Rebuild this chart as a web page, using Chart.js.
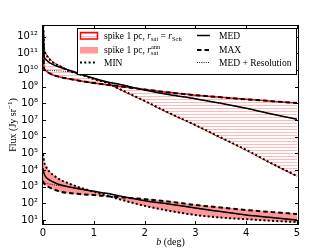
<!DOCTYPE html>
<html><head><meta charset="utf-8">
<script src="https://cdn.jsdelivr.net/npm/chart.js@4/dist/chart.umd.min.js"></script>
<style>html,body{margin:0;padding:0;background:#fff;}canvas{display:block;}</style>
</head><body>
<canvas id="c" width="333" height="251"></canvas>
<script>
// galactic latitude b (deg)
const b = [0, 0.02, 0.05, 0.1, 0.2, 0.35, 0.5, 0.75, 1.0, 1.25, 1.5, 2, 2.5, 3, 3.5, 4, 4.5, 5];
// spike 1 pc, r_sat = r_Sch
const schMIN = [7.9e12, 2.0e11, 1.0e11, 5.6e10, 2.8e10, 1.6e10, 9.1e9, 5.2e9, 2.8e9, 1.7e9, 7.4e8, 1.4e8, 2.5e7, 5.0e6, 8.9e5, 1.6e5, 2.5e4, 4.4e3];
const schMED = [7.9e12, 7.1e10, 4.5e10, 3.2e10, 2.1e10, 1.4e10, 1.0e10, 5.6e9, 3.2e9, 2.0e9, 1.4e9, 6.3e8, 3.3e8, 1.9e8, 1.0e8, 5.0e7, 2.3e7, 1.1e7];
const schMAX = [7.9e12, 1.26e10, 9.3e9, 7.1e9, 5.0e9, 3.7e9, 3.0e9, 2.2e9, 1.66e9, 1.32e9, 1.07e9, 6.8e8, 4.4e8, 3.1e8, 2.3e8, 1.74e8, 1.35e8, 1.05e8];
const schRES = [9.3e9, 9.3e9, 9.3e9, 9.3e9, 9.1e9, 8.7e9, 7.9e9, 5.4e9, 3.2e9, 2.0e9, 1.4e9, 6.3e8, 3.3e8, 1.9e8, 1.0e8, 5.0e7, 2.3e7, 1.1e7];
// spike 1 pc, r_sat^ann
const annMIN = [8.9e4, 3.2e4, 1.8e4, 1.0e4, 5.0e3, 2.5e3, 1.6e3, 830, 500, 300, 178, 71, 35, 20, 14, 11.2, 8.9, 7.6];
const annMED = [1.26e4, 6.3e3, 4.0e3, 2.8e3, 1.9e3, 1.26e3, 1.0e3, 710, 525, 400, 280, 145, 89, 52, 32, 20, 14, 10];
const annMAX = [2.2e3, 1.6e3, 1.26e3, 1.0e3, 710, 500, 420, 355, 316, 270, 235, 178, 126, 79, 56, 40, 30, 23];
const annRES = [1.6e3, 1.6e3, 1.55e3, 1.5e3, 1.3e3, 1.12e3, 930, 710, 525, 400, 280, 145, 89, 52, 32, 20, 14, 10];
// tick labels
const xTicks = [0, 1, 2, 3, 4, 5];
const yExps = [1, 2, 3, 4, 5, 6, 7, 8, 9, 10, 11, 12];

const SUP = {'0':'⁰','1':'¹','2':'²','3':'³','4':'⁴','5':'⁵','6':'⁶','7':'⁷','8':'⁸','9':'⁹','-':'⁻'};
const sup = s => String(s).split('').map(c => SUP[c] || c).join('');

// hatch pattern
const pc = document.createElement('canvas'); pc.width = 4; pc.height = 3;
const pctx = pc.getContext('2d');
pctx.fillStyle = '#fff'; pctx.fillRect(0,0,4,3);
pctx.fillStyle = 'rgb(255,185,185)'; pctx.fillRect(0,0,4,1);
const ctx = document.getElementById('c').getContext('2d');
const hatch = ctx.createPattern(pc, 'repeat');

const pts = arr => b.map((x,i) => ({x, y: arr[i]}));
const base = {pointRadius: 0, borderCapStyle: 'butt', cubicInterpolationMode: 'monotone', fill: false};
const DASH = [4.5, 3], DOTS = [2, 2.3], FINE = [1, 1.2];

const datasets = [
  {...base, data: pts(schMAX), borderColor: 'red', borderWidth: 1.5, backgroundColor: hatch, fill: {target: 1}, order: 10},
  {...base, data: pts(schMIN), borderColor: 'red', borderWidth: 1.5, order: 10},
  {...base, data: pts(annMAX), borderColor: '#ff9999', borderWidth: 1, backgroundColor: '#ff9999', fill: {target: 3}, order: 10},
  {...base, data: pts(annMIN), borderColor: '#ff9999', borderWidth: 1, order: 10},
  {...base, data: pts(schRES), borderColor: '#000', borderWidth: 0.9, borderDash: FINE, order: 2},
  {...base, data: pts(annRES), borderColor: '#000', borderWidth: 0.9, borderDash: FINE, order: 2},
  {...base, data: pts(schMED), borderColor: '#000', borderWidth: 1.5, order: 1},
  {...base, data: pts(annMED), borderColor: '#000', borderWidth: 1.5, order: 1},
  {...base, data: pts(schMAX), borderColor: '#000', borderWidth: 2, borderDash: DASH, order: 1},
  {...base, data: pts(annMAX), borderColor: '#000', borderWidth: 2, borderDash: DASH, order: 1},
  {...base, data: pts(schMIN), borderColor: '#000', borderWidth: 2, borderDash: DOTS, order: 1},
  {...base, data: pts(annMIN), borderColor: '#000', borderWidth: 2, borderDash: DOTS, order: 1},
];

function rich(c, x, y, parts) {
  for (const p of parts) {
    c.font = p.f;
    c.fillText(p.t, x, y + (p.dy || 0));
    x += c.measureText(p.t).width;
  }
  return x;
}
const SER = '"Liberation Serif", "DejaVu Serif", serif';
const F = '9.5px ' + SER, FI = 'italic 9.5px ' + SER, FS = '6.5px ' + SER;

const deco = {
  id: 'deco',
  afterDraw(chart) {
    const c = chart.ctx, a = chart.chartArea;
    const xs = chart.scales.x, ys = chart.scales.y;
    c.save();
    // frame
    c.strokeStyle = '#000'; c.lineWidth = 1;
    c.strokeRect(a.left + 0.5, a.top + 0.5, a.right - a.left - 1, a.bottom - a.top - 1);
    // inward ticks
    c.beginPath();
    for (const v of xTicks) {
      const px = Math.round(xs.getPixelForValue(v)) + 0.5;
      c.moveTo(px, a.bottom); c.lineTo(px, a.bottom - 4);
      c.moveTo(px, a.top); c.lineTo(px, a.top + 4);
    }
    for (const e of yExps) {
      const py = Math.round(ys.getPixelForValue(Math.pow(10, e))) + 0.5;
      c.moveTo(a.left, py); c.lineTo(a.left + 4, py);
      c.moveTo(a.right, py); c.lineTo(a.right - 4, py);
    }
    c.stroke();

    // legend
    const L = 77.5, T = 28.5, W = 219, H = 46;
    c.fillStyle = '#fff'; c.fillRect(L, T, W, H);
    c.strokeStyle = '#000'; c.lineWidth = 1; c.strokeRect(L, T, W, H);
    const rows = [35.5, 50, 62.5];
    // row 1 symbol: hatched with red border
    c.fillStyle = hatch; c.fillRect(80.5, rows[0] - 3, 17, 6.5);
    c.strokeStyle = 'red'; c.lineWidth = 1.5; c.strokeRect(80.5, rows[0] - 3, 17, 6.5);
    // row 2 symbol: pink fill
    c.fillStyle = '#ff9999'; c.fillRect(80, rows[1] - 3, 18, 6.5);
    // row 3 MIN line
    const seg = (x0, x1, y, w, dash) => {
      c.beginPath(); c.setLineDash(dash); c.lineWidth = w; c.strokeStyle = '#000';
      c.lineCap = 'butt'; c.moveTo(x0, y); c.lineTo(x1, y); c.stroke(); c.setLineDash([]);
    };
    seg(80, 97, rows[2], 2, DOTS);
    seg(197, 210, rows[0], 1.5, []);
    seg(197, 210, rows[1], 2, DASH);
    seg(197, 210, rows[2], 0.9, FINE);

    c.fillStyle = '#000'; c.textAlign = 'left'; c.textBaseline = 'alphabetic';
    rich(c, 104, rows[0] + 3, [{t:'spike 1 pc, ', f:F}, {t:'r', f:FI}, {t:'sat', f:FS, dy:2}, {t:' = ', f:F}, {t:'r', f:FI}, {t:'Sch', f:FS, dy:2}]);
    let x2 = rich(c, 104, rows[1] + 3, [{t:'spike 1 pc, ', f:F}, {t:'r', f:FI}]);
    c.font = FS; c.fillText('ann', x2, rows[1] - 1); c.fillText('sat', x2, rows[1] + 5);
    rich(c, 104, rows[2] + 3, [{t:'MIN', f:F}]);
    rich(c, 219, rows[0] + 3, [{t:'MED', f:F}]);
    rich(c, 219, rows[1] + 3, [{t:'MAX', f:F}]);
    rich(c, 219, rows[2] + 3, [{t:'MED + Resolution', f:F}]);

    // axis titles
    c.textAlign = 'left';
    c.font = 'italic 10px ' + SER;
    const wb = c.measureText('b').width;
    c.font = '10px ' + SER;
    const wd = c.measureText(' (deg)').width;
    const cx = (a.left + a.right) / 2;
    rich(c, cx - (wb + wd) / 2, 245, [{t:'b', f:'italic 10px ' + SER}, {t:' (deg)', f:'10px ' + SER}]);
    c.save();
    c.translate(13, (a.top + a.bottom) / 2);
    c.rotate(-Math.PI / 2);
    c.font = '10px ' + SER;
    const w1 = c.measureText('Flux (Jy sr').width;
    c.font = '7px ' + SER;
    const w2 = c.measureText('−1').width;
    c.font = '10px ' + SER;
    const w3 = c.measureText(')').width;
    rich(c, -(w1 + w2 + w3) / 2, 3, [{t:'Flux (Jy sr', f:'10px ' + SER}, {t:'−1', f:'7px ' + SER, dy:-4}, {t:')', f:'10px ' + SER}]);
    c.restore();
    c.restore();
  }
};

new Chart(ctx, {
  type: 'line',
  data: {datasets},
  options: {
    responsive: false, animation: false, devicePixelRatio: 1,
    layout: {padding: {top: 25, right: 34, left: 0, bottom: 0}},
    plugins: {legend: {display: false}, tooltip: {enabled: false}},
    scales: {
      x: {
        type: 'linear', min: -0.02, max: 5.04,
        grid: {display: false, drawTicks: false}, border: {display: false},
        afterBuildTicks: s => { s.ticks = xTicks.map(v => ({value: v})); },
        afterFit: s => { s.height = 26; },
        ticks: {padding: 2, color: '#000', font: {family: '"DejaVu Sans"', size: 10}, maxRotation: 0, callback: v => String(v)}
      },
      y: {
        type: 'logarithmic', min: Math.pow(10, 0.7), max: Math.pow(10, 12.7),
        grid: {display: false, drawTicks: false}, border: {display: false},
        afterBuildTicks: s => { s.ticks = yExps.map(e => ({value: Math.pow(10, e)})); },
        afterFit: s => { s.width = 42; },
        ticks: {padding: 4, color: '#000', font: {family: '"DejaVu Sans"', size: 10}, autoSkip: false,
          callback: v => '10' + sup(Math.round(Math.log10(v)))}
      }
    }
  },
  plugins: [deco]
});
</script>
</body></html>
